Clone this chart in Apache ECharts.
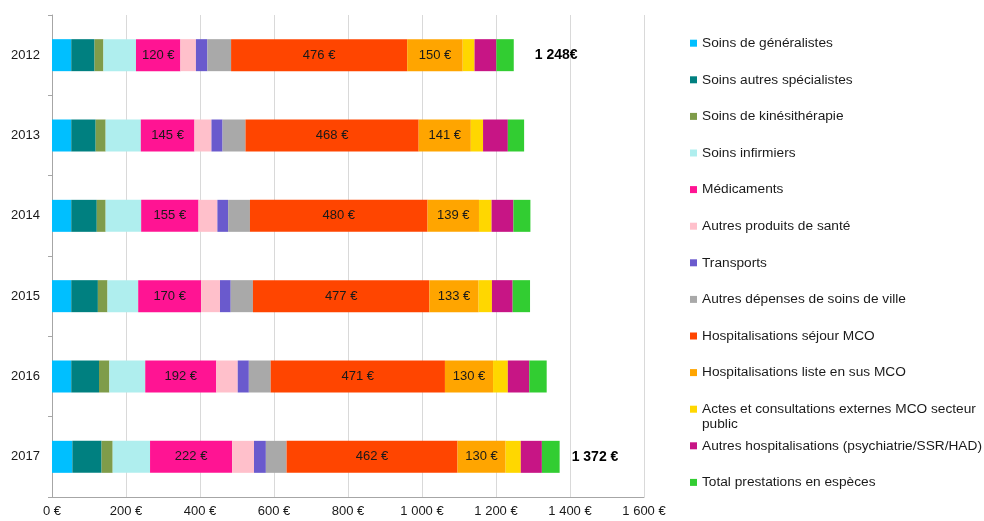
<!DOCTYPE html>
<html>
<head>
<meta charset="utf-8">
<script src="https://cdn.jsdelivr.net/npm/echarts@6/dist/echarts.min.js"></script>
<style>
  html, body { margin: 0; padding: 0; background: #fff; }
  #chart { width: 984px; height: 521px; }
</style>
</head>
<body>
<div id="chart"></div>
<script>
// years, top to bottom
const years = ['2012', '2013', '2014', '2015', '2016', '2017']

const seriesNames = [
  'Soins de généralistes',
  'Soins autres spécialistes',
  'Soins de kinésithérapie',
  'Soins infirmiers',
  'Médicaments',
  'Autres produits de santé',
  'Transports',
  'Autres dépenses de soins de ville',
  'Hospitalisations séjour MCO',
  'Hospitalisations liste en sus MCO',
  'Actes et consultations externes MCO secteur public',
  'Autres hospitalisations (psychiatrie/SSR/HAD)',
  'Total prestations en espèces'
]

// values in €
const generalistes   = [52, 52, 52, 52, 52, 55]
const specialistes   = [63, 66, 69, 72, 75, 79]
const kine           = [24, 27, 24, 26, 28, 30]
const infirmiers     = [88, 95, 96, 83, 97, 101]
const medicaments    = [120, 145, 155, 170, 192, 222]
const autresProduits = [42, 46, 51, 51, 58, 59]
const transports     = [31, 30, 29, 29, 30, 32]
const autresVille    = [64, 62, 59, 60, 59, 56]
const sejourMCO      = [476, 468, 480, 477, 471, 462]
const listeSus       = [150, 141, 139, 133, 130, 130]
const actesExternes  = [32, 33, 34, 36, 40, 41]
const autresHosp     = [59, 67, 59, 56, 58, 57]
const especes        = [47, 44, 46, 47, 47, 48]

const totalLabels = ['1 248€', '', '', '', '', '1 372 €']

const xTicks = [0, 200, 400, 600, 800, 1000, 1200, 1400, 1600]

const colors = ['#00bfff', '#008080', '#7f9c4a', '#afeeee', '#ff1493', '#ffc0cb',
  '#6a5acd', '#a9a9a9', '#ff4500', '#ffa500', '#ffd700', '#c71585', '#32cd32']

const allData = [generalistes, specialistes, kine, infirmiers, medicaments, autresProduits,
  transports, autresVille, sejourMCO, listeSus, actesExternes, autresHosp, especes]

const labelled = [4, 8, 9]
const totalGap = [21, 0, 0, 0, 0, 12]

function euro(v) {
  return String(v).replace(/\B(?=(\d{3})+(?!\d))/g, ' ') + ' €'
}

const font = 'Liberation Sans, Arial, sans-serif'
const legendText = { fontFamily: font, fontSize: 13.7, color: '#1a1a1a' }

const series = allData.map((d, i) => {
  const s = {
    name: seriesNames[i],
    type: 'bar',
    stack: 'total',
    barWidth: 32,
    data: d,
    itemStyle: { color: colors[i] },
    animation: false
  }
  if (labelled.indexOf(i) >= 0) {
    s.label = {
      show: true,
      position: 'inside',
      color: '#1a1a1a',
      fontFamily: font,
      fontSize: 13,
      formatter: p => p.value + ' €'
    }
  }
  if (i === allData.length - 1) {
    s.data = d.map((v, k) => ({
      value: v,
      label: { distance: totalGap[k] }
    }))
    s.label = {
      show: true,
      position: 'right',
      color: '#000',
      fontFamily: font,
      fontSize: 14,
      fontWeight: 'bold',
      formatter: p => totalLabels[p.dataIndex]
    }
  }
  return s
})

// one legend per item so the spacing stays even; the long entry wraps
// its last word onto a second, icon-less legend line
const legends = []
seriesNames.forEach((n, i) => {
  const wrap = n.endsWith(' secteur public')
  legends.push({
    data: [n],
    orient: 'vertical',
    left: 690,
    top: 36.2 + i * 36.6,
    padding: 0,
    itemWidth: 7,
    itemHeight: 7,
    icon: 'rect',
    selectedMode: false,
    formatter: wrap ? nm => nm.replace(/ public$/, '') : '{name}',
    textStyle: legendText
  })
  if (wrap) {
    legends.push({
      data: [n],
      orient: 'vertical',
      left: 690,
      top: 36.2 + i * 36.6 + 15.5,
      padding: 0,
      itemWidth: 7,
      itemHeight: 7,
      icon: 'none',
      selectedMode: false,
      formatter: () => 'public',
      textStyle: legendText
    })
  }
})

const chart = echarts.init(document.getElementById('chart'))
chart.setOption({
  animation: false,
  color: colors,
  legend: legends,
  grid: { left: 52, right: 340, top: 15, bottom: 24, containLabel: false },
  xAxis: {
    type: 'value',
    min: xTicks[0],
    max: xTicks[xTicks.length - 1],
    interval: 200,
    axisLine: { show: true, lineStyle: { color: '#a6a6a6' } },
    axisTick: { show: false },
    splitLine: { lineStyle: { color: '#d9d9d9' } },
    axisLabel: { fontFamily: font, fontSize: 13, color: '#1a1a1a', margin: 8, formatter: euro }
  },
  yAxis: {
    type: 'category',
    inverse: true,
    data: years,
    axisLine: { show: true, lineStyle: { color: '#a6a6a6' } },
    axisTick: { show: true, length: 4, lineStyle: { color: '#a6a6a6' } },
    axisLabel: { fontFamily: font, fontSize: 13, color: '#1a1a1a', margin: 12 }
  },
  series: series
})
</script>
</body>
</html>
